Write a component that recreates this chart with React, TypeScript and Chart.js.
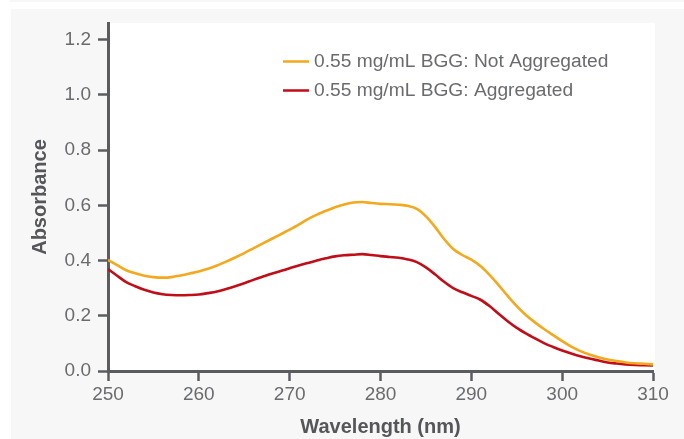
import React, { useEffect, useRef } from "react";
import { Chart, registerables } from "chart.js";

Chart.register(...registerables);

const wavelengths: number[] = [
  250, 251, 252, 253, 254, 255, 256, 257, 258, 259,
  260, 261, 262, 263, 264, 265, 266, 267, 268, 269,
  270, 271, 272, 273, 274, 275, 276, 277, 278, 279,
  280, 281, 282, 283, 284, 285, 286, 287, 288, 289,
  290, 291, 292, 293, 294, 295, 296, 297, 298, 299,
  300, 301, 302, 303, 304, 305, 306, 307, 308, 309, 310,
];

const notAggregated: number[] = [
  0.402, 0.383, 0.365, 0.354, 0.345, 0.340, 0.338, 0.340, 0.346, 0.353,
  0.360, 0.370, 0.382, 0.396, 0.411, 0.427, 0.444, 0.461, 0.478, 0.495,
  0.512, 0.530, 0.550, 0.566, 0.580, 0.593, 0.603, 0.610, 0.612, 0.608,
  0.605, 0.604, 0.602, 0.598, 0.587, 0.560, 0.522, 0.478, 0.442, 0.420,
  0.403, 0.380, 0.348, 0.311, 0.272, 0.235, 0.203, 0.176, 0.152, 0.130,
  0.108, 0.088, 0.072, 0.060, 0.050, 0.042, 0.036, 0.031, 0.028, 0.026, 0.024,
];

const aggregated: number[] = [
  0.369, 0.345, 0.322, 0.307, 0.294, 0.284, 0.278, 0.275, 0.274, 0.275,
  0.277, 0.282, 0.288, 0.297, 0.307, 0.318, 0.330, 0.341, 0.352, 0.362,
  0.372, 0.382, 0.391, 0.400, 0.408, 0.415, 0.419, 0.421, 0.423, 0.420,
  0.416, 0.413, 0.410, 0.404, 0.394, 0.375, 0.350, 0.323, 0.300, 0.285,
  0.272, 0.258, 0.235, 0.207, 0.180, 0.156, 0.136, 0.118, 0.101, 0.087,
  0.074, 0.063, 0.053, 0.045, 0.038, 0.031, 0.027, 0.024, 0.022, 0.021, 0.020,
];

const seriesLabels: string[] = [
  "0.55 mg/mL BGG: Not Aggregated",
  "0.55 mg/mL BGG: Aggregated",
];
const seriesColors: string[] = ["#f4a81d", "#c00d18"];

const yTickValues: number[] = [0, 0.2, 0.4, 0.6, 0.8, 1.0, 1.2];

const AXIS = "#5b5c60";
const TICK_TEXT = "#6a6b6e";
const TITLE_TEXT = "#555659";
const FONT = "'Liberation Sans', Arial, sans-serif";

const backgroundPlugin = {
  id: "bgPanel",
  beforeDraw(chart: any) {
    const { ctx, chartArea } = chart;
    ctx.save();
    ctx.fillStyle = "#ffffff";
    ctx.fillRect(0, 0, chart.width, chart.height);
    ctx.fillStyle = "#f7f7f7";
    ctx.fillRect(10, 0, chart.width - 10, 2);
    ctx.fillRect(11, 9, chart.width - 11, chart.height - 9);
    ctx.fillStyle = "#ffffff";
    ctx.fillRect(chartArea.left, chartArea.top, chartArea.right - chartArea.left + 2, chartArea.bottom - chartArea.top);
    ctx.restore();
  },
};

const legendPlugin = {
  id: "insideLegend",
  afterDraw(chart: any) {
    const { ctx } = chart;
    ctx.save();
    ctx.font = `19.2px ${FONT}`;
    ctx.textBaseline = "middle";
    ctx.textAlign = "left";
    const rows = [61.5, 90.5];
    chart.data.datasets.forEach((ds: any, i: number) => {
      const y = rows[i];
      ctx.strokeStyle = ds.borderColor;
      ctx.lineWidth = 2.5;
      ctx.beginPath();
      ctx.moveTo(283, y);
      ctx.lineTo(309, y);
      ctx.stroke();
      ctx.fillStyle = TICK_TEXT;
      ctx.fillText(ds.label, 314, y + 0.5);
    });
    ctx.restore();
  },
};

export default function App() {
  const canvasRef = useRef<HTMLCanvasElement | null>(null);

  useEffect(() => {
    document.body.style.margin = "0";
    const canvas = canvasRef.current;
    if (!canvas) return;
    const chart = new Chart(canvas, {
      type: "line",
      data: {
        datasets: [
          {
            label: seriesLabels[0],
            data: wavelengths.map((x, i) => ({ x, y: notAggregated[i] })),
            borderColor: seriesColors[0],
            borderWidth: 2.6,
            pointRadius: 0,
            cubicInterpolationMode: "monotone",
            fill: false,
          },
          {
            label: seriesLabels[1],
            data: wavelengths.map((x, i) => ({ x, y: aggregated[i] })),
            borderColor: seriesColors[1],
            borderWidth: 2.6,
            pointRadius: 0,
            cubicInterpolationMode: "monotone",
            fill: false,
          },
        ],
      },
      options: {
        responsive: false,
        animation: false,
        events: [],
        layout: { padding: { left: 0, right: 31, top: 23, bottom: 0 } },
        plugins: {
          legend: { display: false },
          tooltip: { enabled: false },
        },
        scales: {
          x: {
            type: "linear",
            min: 250,
            max: 310,
            ticks: {
              stepSize: 10,
              color: TICK_TEXT,
              font: { family: FONT, size: 19 },
              padding: 2,
              maxRotation: 0,
              callback: (v: any) => String(v),
            },
            grid: {
              display: true,
              drawOnChartArea: false,
              drawTicks: true,
              tickLength: 10,
              tickWidth: 2.5,
              tickColor: AXIS,
              color: AXIS,
            },
            border: { display: true, color: AXIS, width: 3 },
            title: {
              display: true,
              text: "Wavelength (nm)",
              color: TITLE_TEXT,
              font: { family: FONT, size: 20, weight: "bold" },
              padding: { top: 0, bottom: 0 },
            },
            afterFit: (scale: any) => {
              scale.height = 68;
            },
          },
          y: {
            min: 0,
            max: 1.26,
            afterBuildTicks: (scale: any) => {
              scale.ticks = yTickValues.map((v) => ({ value: v }));
            },
            ticks: {
              color: TICK_TEXT,
              font: { family: FONT, size: 19 },
              padding: 7,
              callback: (v: any) => Number(v).toFixed(1),
            },
            grid: {
              display: true,
              drawOnChartArea: false,
              drawTicks: true,
              tickLength: 10,
              tickWidth: 2.5,
              tickColor: AXIS,
              color: AXIS,
            },
            border: { display: true, color: AXIS, width: 3 },
            title: {
              display: true,
              text: "Absorbance",
              color: TITLE_TEXT,
              font: { family: FONT, size: 20, weight: "bold" },
              padding: { top: 28, bottom: 0 },
            },
            afterFit: (scale: any) => {
              scale.width = 108;
            },
          },
        },
      },
      plugins: [backgroundPlugin, legendPlugin],
    });
    return () => chart.destroy();
  }, []);

  return (
    <div style={{ position: "absolute", left: 0, top: 0, width: 684, height: 439 }}>
      <canvas ref={canvasRef} width={684} height={439} style={{ display: "block", width: 684, height: 439 }} />
    </div>
  );
}
